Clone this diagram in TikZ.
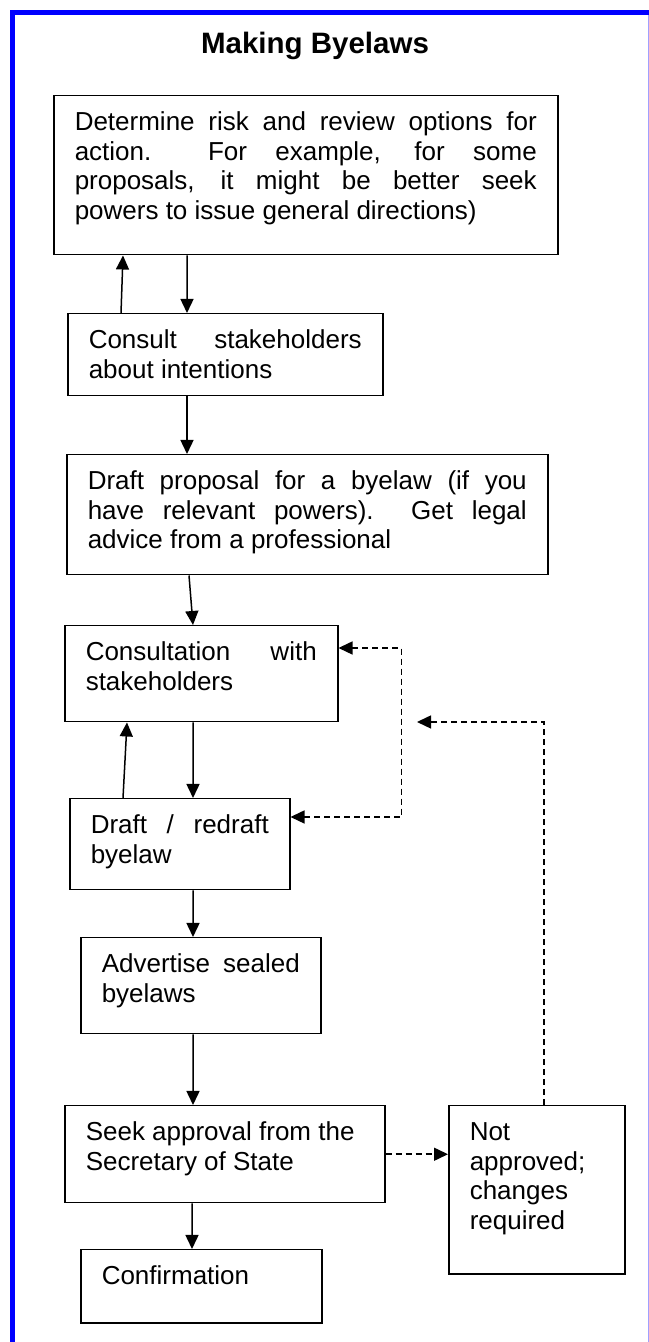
\documentclass[tikz,border=0pt]{standalone}
\usepackage{fontspec}
\setmainfont{Liberation Sans}
\usetikzlibrary{arrows.meta}
\definecolor{frameblue}{RGB}{0,0,255}
\definecolor{edgeblue}{RGB}{160,160,255}
\newcommand{\steptext}[3]{\parbox[c][#2][t]{#1}{\rule{0pt}{35bp}#3}}
\newcommand{\fullline}[1]{\makebox[\linewidth][s]{#1}}
\tikzset{
  stepbox/.style={draw=black,line width=1.5bp,anchor=north west,inner xsep=21bp,inner ysep=0pt,font=\fontsize{26bp}{29.6bp}\selectfont},
  flow/.style={line width=1.5bp,-{Triangle[length=14bp,width=13bp]}},
  backflow/.style={flow,dash pattern=on 6bp off 4bp}
}
\begin{document}
\begin{tikzpicture}[x=1bp,y=1bp]
\path[use as bounding box] (0,0) rectangle (649,1342);
\fill[frameblue] (10,1327) rectangle (649,1332);\fill[frameblue] (10,0) rectangle (15,1332);
\draw[edgeblue,line width=1bp] (648,0)--(648,1327);
\node[anchor=base,font=\fontsize{29.5bp}{33bp}\selectfont\bfseries] (title) at (315,1288) {Making Byelaws};
\node[stepbox] (det) at (53,1247) {\steptext{462bp}{159bp}{\fullline{Determine risk and review options for}\\\fullline{action.\ \ For example, for some}\\\fullline{proposals, it might be better seek}\\powers to issue general directions)}};
\node[stepbox] (consult) at (67,1029) {\steptext{273bp}{82bp}{\fullline{Consult stakeholders}\\about intentions}};
\node[stepbox] (draft) at (66,888) {\steptext{439bp}{120bp}{\fullline{Draft proposal for a byelaw (if you}\\\fullline{have relevant powers).\ \ Get legal}\\advice from a professional}};
\node[stepbox] (consultation) at (64,717) {\steptext{231bp}{96bp}{\fullline{Consultation with}\\stakeholders}};
\node[stepbox] (redraft) at (69,544) {\steptext{178bp}{91bp}{\fullline{Draft / redraft}\\byelaw}};
\node[stepbox] (advertise) at (80,405) {\steptext{198bp}{96bp}{\fullline{Advertise sealed}\\byelaws}};
\node[stepbox] (approval) at (64,237) {\steptext{278bp}{97bp}{Seek approval from the\\Secretary of State}};
\node[stepbox] (notapproved) at (448,237) {\steptext{134bp}{168bp}{Not\\approved;\\changes\\required}};
\node[stepbox] (confirm) at (80,93) {\steptext{199bp}{73bp}{Confirmation}};
\draw[flow] ([xshift=134bp]det.south west) -- ([xshift=120bp]consult.north west);
\draw[flow] ([xshift=54bp]consult.north west) -- ([xshift=70bp]det.south west);
\draw[flow] ([xshift=120bp]consult.south west) -- ([xshift=121bp]draft.north west);
\draw[flow] ([xshift=123bp]draft.south west) -- ([xshift=129bp]consultation.north west);
\draw[flow] ([xshift=129bp]consultation.south west) -- ([xshift=124bp]redraft.north west);
\draw[flow] ([xshift=54bp]redraft.north west) -- ([xshift=63bp]consultation.south west);
\draw[flow] ([xshift=124bp]redraft.south west) -- ([xshift=113bp]advertise.north west);
\draw[flow] ([xshift=113bp]advertise.south west) -- ([xshift=129bp]approval.north west);
\draw[flow] ([xshift=128bp]approval.south west) -- ([xshift=112bp]confirm.north west);
\draw[backflow] (approval.east) -- (approval.east -| notapproved.west);
\coordinate (rejoin) at (417,620);
\draw[backflow] ([xshift=96bp]notapproved.north west) |- (rejoin);
\draw[backflow,{Triangle[length=14bp,width=13bp]}-{Triangle[length=14bp,width=13bp]}] ([yshift=-23bp]consultation.north east) -- ++(63,0) |- ([yshift=-19bp]redraft.north east);
\end{tikzpicture}
\end{document}
